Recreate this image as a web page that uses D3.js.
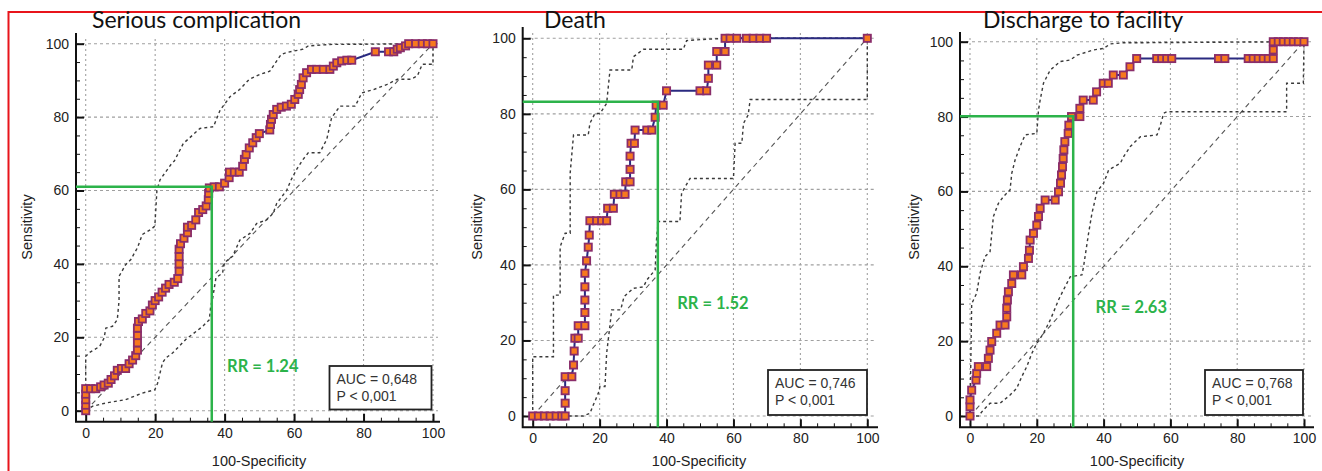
<!DOCTYPE html>
<html>
<head>
<meta charset="utf-8">
<script src="https://cdn.jsdelivr.net/npm/d3@7"></script>
<style>
  body { margin: 0; background: #fff; }
  svg { display: block; }
  .tick text { font-family: 'Liberation Sans', Arial, sans-serif; font-size: 14px; fill: #222; }
</style>
</head>
<body>
<svg id="chart" width="1322" height="471"></svg>
<script>
'use strict';

// values (100-specificity, sensitivity)
var titles = ['Serious complication', 'Death', 'Discharge to facility'];
var aucLabels = ['AUC = 0,648', 'AUC = 0,746', 'AUC = 0,768'];
var pLabels = ['P < 0,001', 'P < 0,001', 'P < 0,001'];
var rrLabels = ['RR = 1.24', 'RR = 1.52', 'RR = 2.63'];
var cutoffSpec = [36.3, 37.4, 30.9];
var cutoffSens = [61, 83.2, 80.1];
var majorTicks = [0, 20, 40, 60, 80, 100];
var allTicks = [0, 5, 10, 15, 20, 25, 30, 35, 40, 45, 50, 55, 60, 65, 70, 75, 80, 85, 90, 95, 100];

var rocSerious = [[0,0],[0,1.5],[0,3],[0,4.5],[0,6],[1.4,6],[2.9,6],[4.3,6.5],[5.3,7],[6.5,7.5],[7.3,8.5],[8.3,9.5],[9.1,11],[10.3,11.5],[11.5,11.5],[12.5,12.8],[13.5,13.8],[14.4,15],[14.9,16.5],[14.9,18.5],[14.9,20.5],[14.9,22.5],[15.2,24.3],[16.3,25],[17.3,26.5],[18.5,27.2],[19.2,28.8],[20,30],[21,31],[22,32.3],[23,33.4],[24,34.4],[25.5,35],[26.5,36],[26.9,38],[26.9,40],[26.9,42],[26.9,44],[27.3,45.5],[28.3,47],[29.3,48.5],[29.3,50],[30.5,50.5],[31.7,52],[32.5,54],[33.7,54.8],[34.7,55.8],[35.3,57.5],[35.4,59.2],[35.6,60.7],[37,61],[38.5,61],[40,62],[41.3,63.5],[41.4,65],[42.8,65],[44.2,65],[45.2,66.6],[45.7,68.5],[46.2,69.8],[47.1,71.6],[48.1,73],[49.1,74.4],[50,75.5],[53,76.5],[53.2,78],[53.5,79.4],[54,80.7],[55,82.1],[56.3,82.7],[57.8,83],[59.2,83.5],[60.2,84.8],[61.2,86.2],[61.6,87.5],[62.1,88.9],[62.6,90.7],[63.6,92.1],[65,93],[66.5,93],[68.4,93],[70.3,93],[71.3,93.9],[72.3,94.8],[73.7,95.3],[75.2,95.5],[76.6,95.5],[83.4,97.8],[87.2,97.8],[88.7,97.8],[89.7,98.5],[90.6,98.9],[92.1,99.4],[93,100],[95,100],[96.9,100],[98.4,100],[100,100]];
var upperSerious = [[0,0],[0,14.8],[1,15.8],[2.4,16.6],[4,17.5],[5.3,19.8],[5.8,22.5],[7.7,23],[9.1,24.8],[9.6,30],[9.6,36.6],[11.5,39.8],[13,41.2],[14.9,44.4],[16.3,48],[18.8,49.4],[19.9,50.3],[20.2,55],[20.5,60],[21.4,62.9],[24.8,67.4],[25.5,68],[28.1,72.8],[32.9,76.9],[36.8,77.4],[38.7,81.9],[41.6,85.6],[44.3,87.5],[47.1,90.3],[50,91.6],[53,92.5],[55,95.3],[56.3,97.1],[58.3,97.7],[62.6,98.5],[64.1,99.4],[70.3,99.8],[100,100]];
var lowerSerious = [[0,0],[1.9,1.2],[5.8,2.1],[11.5,3],[16.3,4.8],[19.9,5.7],[20.7,7.5],[22.1,13],[23.1,14.4],[25,15.7],[28.8,19.4],[33.7,23],[35.6,24.8],[36,28.5],[36.5,30.3],[37.5,36.2],[39.4,37.5],[39.9,40.3],[42.3,42.1],[44.4,46.5],[47.3,48.3],[49.2,51],[52.1,52],[54,53.8],[55,56.5],[57.9,60.1],[59.2,63],[60.7,65.7],[62.6,68.5],[64.1,70.3],[67.4,70.3],[69.4,73.9],[70.8,79.8],[73.2,83],[77.6,83],[79.5,86.6],[82.9,87.5],[86.8,88.9],[89.7,90.3],[93.5,90.3],[95.5,91.2],[96.9,94.4],[100,94.4],[100,100]];

var rocDeath = [[0,0],[1.7,0],[3.5,0],[5.2,0],[7,0],[8.7,0],[9.7,0],[9.7,3.4],[9.7,6.7],[9.7,10.4],[11.7,10.4],[12.2,13.5],[12.4,17.2],[12.6,20.6],[13.6,20.6],[13.6,23.9],[15.6,23.9],[15.6,27.4],[15.6,30.7],[15.6,34.2],[15.6,37.8],[16.1,41.1],[16.6,44.7],[16.9,47.9],[17.1,51.7],[19.1,51.7],[20.6,51.7],[22.1,51.7],[22.4,55],[24.1,55],[24.4,58.7],[26.1,58.7],[27.6,58.7],[27.8,62],[29.1,62],[29.1,65.3],[29.1,68.8],[29.4,72.2],[30.4,72.2],[30.6,75.7],[34.1,75.7],[35.6,75.7],[36.6,79.1],[36.9,82.3],[39,82.3],[40,86.1],[50,86.1],[52,86.1],[52.5,89.4],[52.5,92.9],[55,92.9],[55,96.5],[57.5,96.5],[57.5,100],[59,100],[61,100],[63.9,100],[65.9,100],[67.9,100],[69.9,100],[100,100]];
var upperDeath = [[0,0],[0,15.7],[6.2,15.7],[6.2,32],[8.2,32],[8.2,44.8],[9.7,48.4],[11.2,48.4],[11.2,64.3],[12.2,74.4],[16.6,74.4],[17.1,77.5],[18.6,80.1],[20.1,80.1],[22.1,82.8],[23.1,91.6],[29.6,91.6],[30.1,95.1],[33.1,97.1],[45,97.1],[46,99.4],[51,99.7],[58,100],[100,100]];
var lowerDeath = [[0,0],[15.1,0],[17.1,0.7],[18.1,2.9],[19.6,6],[20.1,7.8],[21.6,7.8],[22.1,16.6],[23.1,24.1],[23.6,28.1],[26.3,28.1],[27.3,31.6],[30.1,33.8],[33.1,34.2],[34.1,36],[36.6,38.7],[37,46.6],[37.5,51.5],[44,51.5],[44.5,59],[47,62.9],[60,62.9],[60.5,72.2],[62.5,72.2],[63,77.5],[64.4,79.7],[65,83.8],[100,83.8],[100,100]];

var rocDischarge = [[0,0],[0,2.5],[0,4.3],[0.5,6.9],[1.8,9.6],[2,11.4],[2.5,13.2],[5,13.2],[5.5,15.4],[6,17.6],[6.5,19.9],[8,22.1],[9,24.3],[10.5,24.3],[11,26.5],[11,28.8],[11.2,31],[11.5,33.2],[12.5,35.4],[13,37.7],[15.5,37.7],[16,39.9],[17.5,42.1],[17.8,44.3],[18,47],[19,48.8],[20,51],[20.5,53.3],[21,55.5],[22.5,57.7],[25.5,57.7],[26.5,59.9],[27.1,62.2],[27.4,64.4],[27.7,66.6],[27.9,68.8],[28.1,71.1],[28.4,73.3],[29.4,75.5],[29.6,77.7],[30.4,80],[32.9,80],[32.9,82.2],[33.9,84.4],[36.9,84.4],[37.9,86.6],[39.9,88.9],[41.4,88.9],[42.9,91.1],[45.9,91.1],[47.9,93.3],[49.9,95.5],[55.9,95.5],[57.4,95.5],[58.9,95.5],[60.4,95.5],[74.4,95.5],[76.3,95.5],[83.3,95.5],[84.8,95.5],[86.3,95.5],[87.8,95.5],[89.3,95.5],[90.8,95.5],[90.8,97.8],[90.8,100],[92.3,100],[93.8,100],[95.3,100],[96.8,100],[98.3,100],[100,100]];
var upperDischarge = [[0,0],[0.5,30],[2,32.8],[3,38.1],[4.5,42.6],[6,43.9],[7,53.3],[8.5,56.8],[10,58.6],[12,60.4],[12.5,64.8],[13.5,68.4],[15,72],[16.5,75.1],[20,75.5],[20.5,81.7],[21,84.4],[22,88.9],[24,92.4],[27,94.7],[30,95.1],[32,96.4],[37,97.8],[40,98.2],[42,99.4],[46,99.7],[100,100]];
var lowerDischarge = [[0,0],[2.5,0],[4,1.6],[6,3.4],[9,3.4],[12,5.6],[14,7.4],[15.5,10.5],[17,13.2],[18.5,16.7],[20,19.4],[22,22.1],[24,25.6],[25.5,28.8],[26.5,31],[28,33.7],[30,37.2],[33.5,37.7],[34,39.9],[35.5,48.8],[36.5,54.1],[38,59.9],[40,62.2],[41.5,65.7],[45,67.5],[46,69.3],[48,72],[51,74.6],[56,75.1],[57,77.7],[58,80.9],[59,81.3],[94.8,81.3],[94.8,88.9],[99.8,88.9],[100,100]];

var rocCurves = [rocSerious, rocDeath, rocDischarge];
var upperBands = [upperSerious, upperDeath, upperDischarge];
var lowerBands = [lowerSerious, lowerDeath, lowerDischarge];

// where each plot sits on the page
var layouts = [
  {x0: 85.7, x100: 433, y0: 410.7, y100: 43.7, left: 76, bottom: 421.7, top: 33, right: 440,
    titleX: 92, ylabX: 27, xlabX: 259, xlabY: 466, rr: [40.7, 12], box: [329.5, 366, 102, 43.5]},
  {x0: 532.7, x100: 867.3, y0: 416, y100: 38.3, left: 522.7, bottom: 427.3, top: 27, right: 878,
    titleX: 544, ylabX: 477, xlabX: 699, xlabY: 466, rr: [43.2, 29.9], box: [768, 370, 99, 45]},
  {x0: 970, x100: 1304, y0: 416, y100: 41.7, left: 960, bottom: 427.3, top: 32, right: 1314,
    titleX: 983, ylabX: 913.5, xlabX: 1137, xlabY: 466, rr: [37.6, 29.1], box: [1205, 370, 98, 45]}
];

var svg = d3.select('#chart');
var green = '#2cb34a';
var sansFont = "'Liberation Sans', Arial, sans-serif";

svg.append('rect').attr('width', 1322).attr('height', 471).attr('fill', '#fff');

// red frame (top and left only)
svg.append('path')
  .attr('d', 'M8.5,471 V12 H1322')
  .attr('fill', 'none')
  .attr('stroke', '#e8141b')
  .attr('stroke-width', 2);

function drawPanel(i) {
  var L = layouts[i];
  var x = d3.scaleLinear().domain([0, 100]).range([L.x0, L.x100]);
  var y = d3.scaleLinear().domain([0, 100]).range([L.y0, L.y100]);
  var g = svg.append('g');

  // grid
  g.selectAll('.vgrid').data(majorTicks).enter().append('line')
    .attr('x1', function (d) { return x(d); })
    .attr('x2', function (d) { return x(d); })
    .attr('y1', L.top + 6).attr('y2', L.bottom)
    .attr('stroke', '#a0a0a0').attr('stroke-width', 1.1).attr('stroke-dasharray', '2,3');
  g.selectAll('.hgrid').data(majorTicks).enter().append('line')
    .attr('x1', L.left).attr('x2', L.right - 2)
    .attr('y1', function (d) { return y(d); })
    .attr('y2', function (d) { return y(d); })
    .attr('stroke', '#a0a0a0').attr('stroke-width', 1.1).attr('stroke-dasharray', '3,3');

  // axes, ticks pointing inward
  var xAxis = g.append('g')
    .attr('transform', 'translate(0,' + L.bottom + ')')
    .call(d3.axisBottom(x).tickValues(allTicks).tickSize(-8).tickSizeOuter(0).tickPadding(6)
      .tickFormat(function (d) { return majorTicks.indexOf(d) >= 0 ? d : ''; }));
  var yAxis = g.append('g')
    .attr('transform', 'translate(' + L.left + ',0)')
    .call(d3.axisLeft(y).tickValues(allTicks).tickSize(-8).tickSizeOuter(0).tickPadding(7)
      .tickFormat(function (d) { return majorTicks.indexOf(d) >= 0 ? d : ''; }));
  xAxis.select('.domain').remove();
  yAxis.select('.domain').remove();
  xAxis.selectAll('.tick line')
    .attr('y2', function (d) { return majorTicks.indexOf(d) >= 0 ? -8 : -4; })
    .attr('stroke', '#111').attr('stroke-width', function (d) { return majorTicks.indexOf(d) >= 0 ? 2 : 1; });
  yAxis.selectAll('.tick line')
    .attr('x2', function (d) { return majorTicks.indexOf(d) >= 0 ? 8 : 4; })
    .attr('stroke', '#111').attr('stroke-width', function (d) { return majorTicks.indexOf(d) >= 0 ? 2 : 1; });

  g.append('path')
    .attr('d', 'M' + L.left + ',' + L.top + ' V' + L.bottom + ' H' + L.right)
    .attr('fill', 'none').attr('stroke', '#111').attr('stroke-width', 2);

  var line = d3.line()
    .x(function (d) { return x(d[0]); })
    .y(function (d) { return y(d[1]); });

  // diagonal reference
  g.append('path')
    .attr('d', line([[0, 0], [100, 100]]))
    .attr('fill', 'none').attr('stroke', '#555').attr('stroke-width', 1.1)
    .attr('stroke-dasharray', '5,4');

  // confidence bounds
  [upperBands[i], lowerBands[i]].forEach(function (band) {
    g.append('path')
      .attr('d', line(band))
      .attr('fill', 'none').attr('stroke', '#3a3a3a').attr('stroke-width', 1.4)
      .attr('stroke-dasharray', '3,3');
  });

  // ROC curve
  g.append('path')
    .attr('d', line(rocCurves[i]))
    .attr('fill', 'none').attr('stroke', '#2a2a80').attr('stroke-width', 2);

  g.selectAll('.pt').data(rocCurves[i]).enter().append('rect')
    .attr('x', function (d) { return x(d[0]) - 3.6; })
    .attr('y', function (d) { return y(d[1]) - 3.6; })
    .attr('width', 7.2).attr('height', 7.2)
    .attr('fill', '#f7791e').attr('stroke', '#8a2d6a').attr('stroke-width', 1.8);

  // cut-off lines
  g.append('path')
    .attr('d', 'M' + L.left + ',' + y(cutoffSens[i]) + ' H' + x(cutoffSpec[i]) + ' V' + L.bottom)
    .attr('fill', 'none').attr('stroke', green).attr('stroke-width', 2.5);

  g.append('text')
    .attr('x', x(L.rr[0])).attr('y', y(L.rr[1]))
    .attr('dy', '0.35em')
    .attr('font-family', 'Lato, sans-serif').attr('font-weight', 'bold').attr('font-size', 16.5)
    .attr('fill', green)
    .text(rrLabels[i]);

  // AUC box
  var b = L.box;
  g.append('rect')
    .attr('x', b[0]).attr('y', b[1]).attr('width', b[2]).attr('height', b[3])
    .attr('fill', '#fff').attr('stroke', '#222').attr('stroke-width', 1.8);
  g.append('text')
    .attr('x', b[0] + 7).attr('y', b[1] + 18)
    .attr('font-family', sansFont).attr('font-size', 14).attr('fill', '#333')
    .text(aucLabels[i]);
  g.append('text')
    .attr('x', b[0] + 7).attr('y', b[1] + 35)
    .attr('font-family', sansFont).attr('font-size', 14).attr('fill', '#333')
    .text(pLabels[i]);

  // titles and axis labels
  g.append('text')
    .attr('x', L.titleX).attr('y', 28)
    .attr('font-family', 'Lato, sans-serif').attr('font-size', 23).attr('fill', '#111')
    .text(titles[i]);
  g.append('text')
    .attr('transform', 'translate(' + (L.ylabX + 5) + ',227) rotate(-90)')
    .attr('text-anchor', 'middle')
    .attr('font-family', sansFont).attr('font-size', 14.5).attr('fill', '#222')
    .text('Sensitivity');
  g.append('text')
    .attr('x', L.xlabX).attr('y', L.xlabY)
    .attr('text-anchor', 'middle')
    .attr('font-family', sansFont).attr('font-size', 14.5).attr('fill', '#222')
    .text('100-Specificity');
}

[0, 1, 2].forEach(drawPanel);
</script>
</body>
</html>
